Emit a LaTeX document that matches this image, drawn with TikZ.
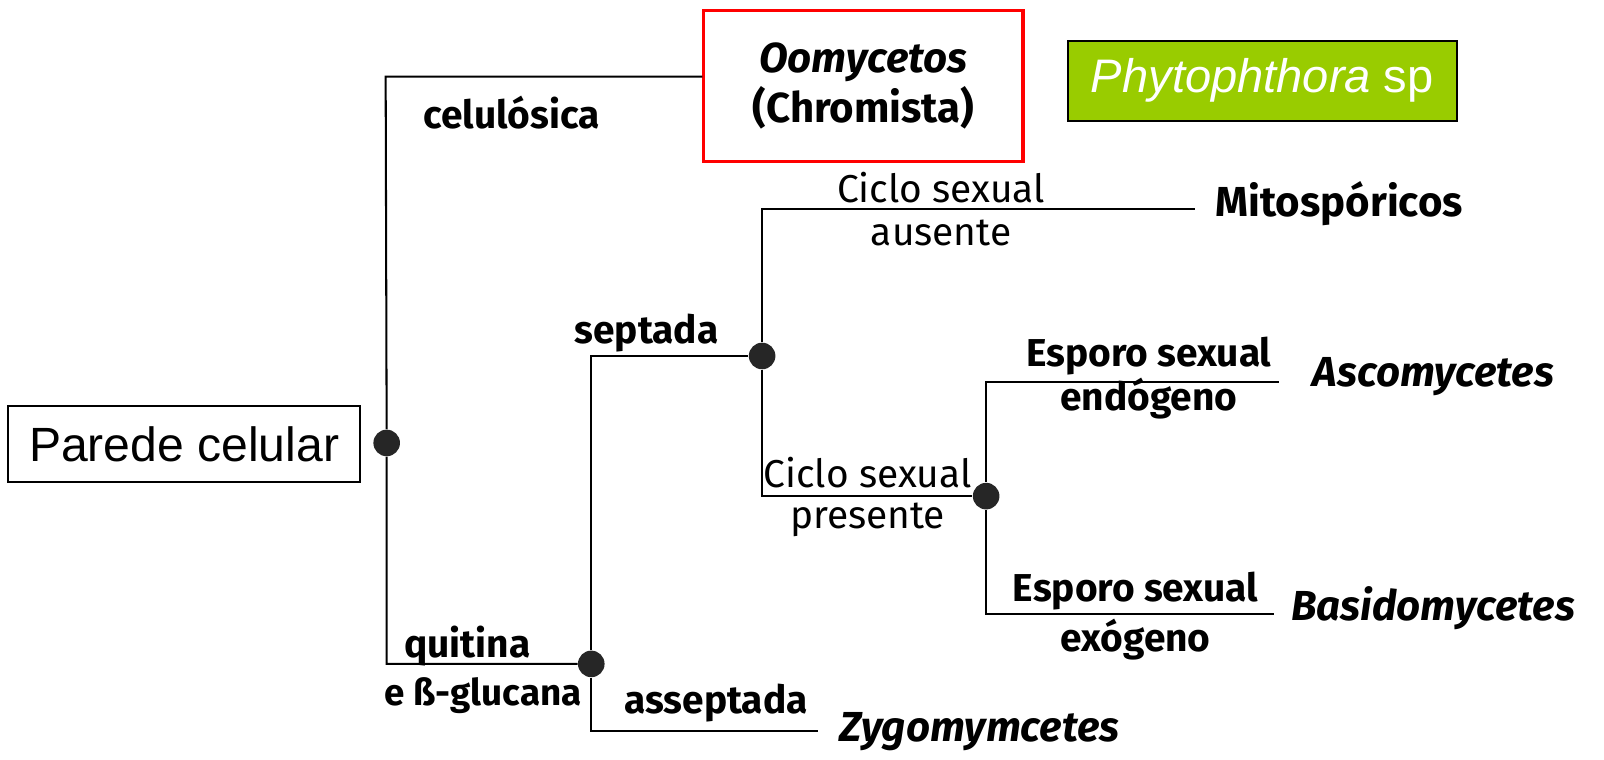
\documentclass[tikz,border=0pt]{standalone}
\usepackage{fontspec}
\setmainfont{Fira Sans}
\newfontfamily\arialfont{Liberation Sans}
\usetikzlibrary{positioning}
\definecolor{leafgreen}{RGB}{153,204,0}

\begin{document}
\begin{tikzpicture}[x=0.5pt, y=-0.5pt,
    branch/.style={line width=1pt},
    fork/.style={circle, fill=black!85, inner sep=0pt, minimum size=13pt},
    lbl/.style={font=\fontsize{19}{21}\selectfont, inner sep=0pt},
    taxon/.style={font=\fontsize{20.5}{22}\selectfont\bfseries, inner sep=0pt, anchor=west}]
    \useasboundingbox (0,0) rectangle (1568,742);

    % boxes
    \node[draw, line width=1pt, minimum width=172pt, minimum height=37pt, font=\arialfont\fontsize{23.5}{26}\selectfont] (wall) at (180,434) {Parede celular};
    \node[draw=red, line width=1.5pt, minimum width=156pt, minimum height=74pt, align=center, font=\fontsize{20.5}{24}\selectfont\bfseries] (oomy) at (844,84) {\textit{Oomycetos}\\(Chromista)};
    \node[draw, fill=leafgreen, line width=1pt, minimum width=190pt, minimum height=39pt, text=white, font=\arialfont\fontsize{23}{26}\selectfont] (phyto) at (1234,79) {\textit{Phytophthora} sp};

    % forks
    \node[fork] (d0) at (378,433) {};
    \node[fork] (d1) at (578,649) {};
    \node[fork] (d2) at (745,348) {};
    \node[fork] (d3) at (964,485) {};

    % taxa
    \node[taxon] (mito) at (1188,199) {Mitospóricos};
    \node[taxon, font=\fontsize{20.5}{22}\selectfont\bfseries\itshape] (asco) at (1283,368) {Ascomycetes};
    \node[taxon, font=\fontsize{20.5}{22}\selectfont\bfseries\itshape] (basi) at (1262,595) {Basidomycetes};
    \node[taxon, font=\fontsize{20.5}{22}\selectfont\bfseries\itshape] (zygo) at (820,715) {Zygomymcetes};

    \coordinate (top) at (377,75);
    \coordinate (mitoend) at (1168,204);
    \coordinate (ascoend) at (1250,373);
    \coordinate (basiend) at (1245,600);
    \coordinate (zygoend) at (800,715);

    \draw[branch] (top -| oomy.west) -- (top) -- (d0) |- (d1);
    \draw[branch] (d2) -| (d1) |- (zygoend);
    \draw[branch] (mitoend) -| (d2) |- (d3);
    \draw[branch] (ascoend) -| (d3) |- (basiend);

    % labels
    \node[lbl, font=\fontsize{19}{21}\selectfont\bfseries] (celul) at (500,110) {celulósica};
    \node[lbl, font=\fontsize{19}{21}\selectfont\bfseries] (sept) at (632,326) {septada};
    \node[lbl] (ciclo1) at (920,183) {Ciclo sexual};
    \node[lbl] (ausente) at (920,228) {ausente};
    \node[lbl] (ciclo2) at (848,462) {Ciclo sexual};
    \node[lbl] (presente) at (848,508) {presente};
    \node[lbl, font=\fontsize{19}{21}\selectfont\bfseries] (esporo1) at (1123,348) {Esporo sexual};
    \node[lbl, font=\fontsize{19}{21}\selectfont\bfseries] (endo) at (1123,390) {endógeno};
    \node[lbl, font=\fontsize{19}{21}\selectfont\bfseries] (esporo2) at (1110,578) {Esporo sexual};
    \node[lbl, font=\fontsize{19}{21}\selectfont\bfseries] (exo) at (1110,625) {exógeno};
    \node[lbl, font=\fontsize{19}{21}\selectfont\bfseries] (quit) at (457,632) {quitina};
    \node[lbl, font=\fontsize{18}{20}\selectfont\bfseries, anchor=east] (gluc) at (569,680) {e ß-glucana};
    \node[lbl, font=\fontsize{19}{21}\selectfont\bfseries] (assept) at (700,687) {asseptada};
\end{tikzpicture}
\end{document}
